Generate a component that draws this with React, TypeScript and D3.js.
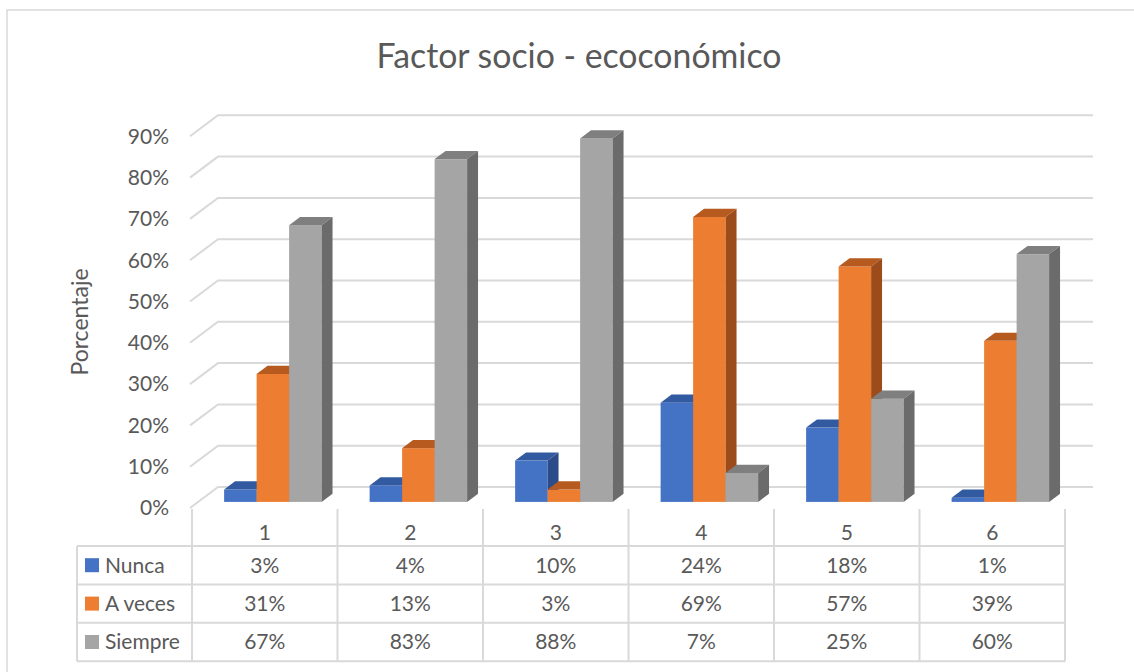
import React from "react";
import * as d3 from "d3";

const categories = ["1", "2", "3", "4", "5", "6"];
const seriesNames = ["Nunca", "A veces", "Siempre"];
const nunca = [3, 4, 10, 24, 18, 1];
const aveces = [31, 13, 3, 69, 57, 39];
const siempre = [67, 83, 88, 7, 25, 60];
const yTicks = [0, 10, 20, 30, 40, 50, 60, 70, 80, 90];

const W = 1134;
const H = 672;
const FONT = "Lato, 'Open Sans', sans-serif";
const TXT = "#595959";
const GRID = "#D9D9D9";

const fronts = ["#4472C4", "#ED7D31", "#A5A5A5"];
const tops = ["#325AA0", "#B65A1F", "#7F7F7F"];
const sides = ["#2B4C88", "#9C4C1A", "#6B6B6B"];

export default function App() {
  const series = [nunca, aveces, siempre];
  const x = d3.scaleBand<string>().domain(categories).range([192, 1065]);
  const y = d3.scaleLinear().domain([0, 90]).range([508, 508 - 0.9 * 413]);
  const inner = d3
    .scaleBand<number>()
    .domain([0, 1, 2])
    .range([x.bandwidth() * 0.165, x.bandwidth() * 0.835]);
  const wallDx = 28;
  const wallDy = 21;
  const f0 = 0.29;
  const f1 = 0.68;

  const rowH = 38.4;
  const tableTop = 546;
  const tableLeft = 77;
  const tableRight = 1065;

  return (
    <div style={{ position: "fixed", left: 0, top: 0, width: W, height: H, background: "#fff" }}>
      <svg width={W} height={H} style={{ display: "block" }} fontFamily={FONT}>
        <rect x={0} y={0} width={W} height={H} fill="#fff" />
        <rect x={7} y={10} width={W + 20} height={H + 20} fill="none" stroke={GRID} strokeWidth={1.5} />
        <text x={579} y={68} textAnchor="middle" fontSize={33.8} fontWeight={400} fill={TXT}>
          Factor socio - ecoconómico
        </text>
        <text
          transform={`translate(88,322) rotate(-90)`}
          textAnchor="middle"
          fontSize={23}
          fill={TXT}
        >
          Porcentaje
        </text>
        {yTicks.map((t) => {
          const yf = y(t);
          return (
            <g key={t}>
              <path
                d={`M190,${yf} L${190 + wallDx},${yf - wallDy} L1093,${yf - wallDy}`}
                fill="none"
                stroke={GRID}
                strokeWidth={2}
              />
              <text x={169} y={yf} dy="0.35em" textAnchor="end" fontSize={21} fill={TXT}>
                {t}%
              </text>
            </g>
          );
        })}
        {categories.map((c, ci) => (
          <g key={c}>
            {series.map((s, si) => {
              const v = s[ci];
              const x0 = (x(c) as number) + inner(si)! + f0 * wallDx;
              const x1 = x0 + inner.bandwidth();
              const yb = y(0) - f0 * wallDy;
              const yt = yb - (y(0) - y(v));
              const ddx = (f1 - f0) * wallDx;
              const ddy = (f1 - f0) * wallDy;
              return (
                <g key={si}>
                  <rect x={x0} y={yt} width={x1 - x0} height={yb - yt} fill={fronts[si]} />
                  <path
                    d={`M${x0},${yt} L${x0 + ddx},${yt - ddy} L${x1 + ddx},${yt - ddy} L${x1},${yt} Z`}
                    fill={tops[si]}
                  />
                  <path
                    d={`M${x1},${yt} L${x1 + ddx},${yt - ddy} L${x1 + ddx},${yb - ddy} L${x1},${yb} Z`}
                    fill={sides[si]}
                  />
                </g>
              );
            })}
          </g>
        ))}
        {[0, 1, 2, 3].map((r) => (
          <line
            key={r}
            x1={tableLeft}
            x2={tableRight}
            y1={tableTop + r * rowH}
            y2={tableTop + r * rowH}
            stroke={GRID}
            strokeWidth={2}
          />
        ))}
        <line x1={tableLeft} x2={tableLeft} y1={tableTop} y2={tableTop + 3 * rowH} stroke={GRID} strokeWidth={2} />
        {categories.map((c) => (
          <line
            key={c}
            x1={x(c) as number}
            x2={x(c) as number}
            y1={509}
            y2={tableTop + 3 * rowH}
            stroke={GRID}
            strokeWidth={2}
          />
        ))}
        <line x1={tableRight} x2={tableRight} y1={509} y2={tableTop + 3 * rowH} stroke={GRID} strokeWidth={2} />
        {categories.map((c) => (
          <text
            key={c}
            x={(x(c) as number) + x.bandwidth() / 2}
            y={533}
            dy="0.35em"
            textAnchor="middle"
            fontSize={21}
            fill={TXT}
          >
            {c}
          </text>
        ))}
        {series.map((s, si) => {
          const cy = tableTop + si * rowH + rowH / 2;
          return (
            <g key={si}>
              <rect x={85} y={cy - 7} width={14} height={14} fill={fronts[si]} />
              <text x={105} y={cy} dy="0.35em" fontSize={21} fill={TXT}>
                {seriesNames[si]}
              </text>
              {categories.map((c, ci) => (
                <text
                  key={c}
                  x={(x(c) as number) + x.bandwidth() / 2}
                  y={cy}
                  dy="0.35em"
                  textAnchor="middle"
                  fontSize={21}
                  fill={TXT}
                >
                  {s[ci]}%
                </text>
              ))}
            </g>
          );
        })}
      </svg>
    </div>
  );
}
